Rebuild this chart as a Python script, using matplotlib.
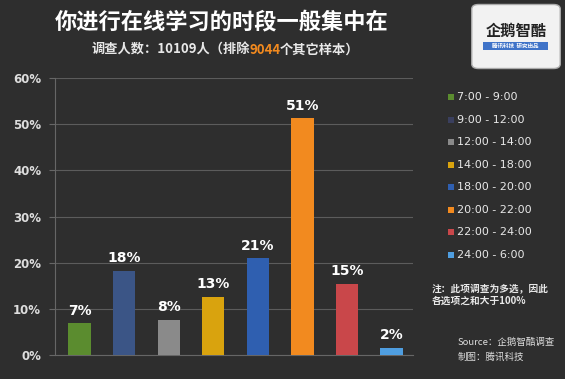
import numpy as np
import matplotlib.pyplot as plt
from matplotlib.patches import FancyBboxPatch, Rectangle

plt.rcParams['font.family'] = ['Noto Sans CJK SC', 'DejaVu Sans']

# data
slots = ["7:00 - 9:00", "9:00 - 12:00", "12:00 - 14:00", "14:00 - 18:00",
         "18:00 - 20:00", "20:00 - 22:00", "22:00 - 24:00", "24:00 - 6:00"]
shares = [6.9, 18.3, 7.6, 12.6, 21.0, 51.3, 15.4, 1.6]
bar_labels = ["7%", "18%", "8%", "13%", "21%", "51%", "15%", "2%"]
colors = ["#5b8c2f", "#3b5586", "#8a8a8a", "#d9a30e",
          "#2f5fb0", "#f28a1f", "#c9474a", "#4f9ee0"]
legend_colors = ["#5b8c2f", "#3a3f5e", "#8a8a8a", "#d9a30e",
                 "#2f5fb0", "#f28a1f", "#c9474a", "#4f9ee0"]
yticks = [0, 10, 20, 30, 40, 50, 60]

W, H = 565, 379
BG = "#2e2e2e"
fig = plt.figure(figsize=(W / 100, H / 100), dpi=100, facecolor=BG)


def fx(px):
    return px / W


def fy(py):
    return 1 - py / H


ax = fig.add_axes([fx(55), fy(355), fx(413 - 55), (355 - 78) / H])
ax.set_facecolor("none")

x = np.arange(len(shares))
ax.bar(x, shares, width=0.5, color=colors, zorder=3)
for xi, v, lab in zip(x, shares, bar_labels):
    ax.text(xi, v + 1.2, lab, ha='center', va='bottom', color='white',
            fontsize=10, fontweight='bold', family='DejaVu Sans', zorder=4)

ax.set_xlim(-0.55, len(shares) - 0.52)
ax.set_ylim(0, 60)
ax.set_yticks(yticks)
ax.set_yticklabels([f"{t}%" for t in yticks], color='#dddddd', fontsize=8.5,
                   fontweight='bold', family='DejaVu Sans')
ax.set_xticks([])
ax.grid(axis='y', color='#5c5c5c', linewidth=0.8, zorder=0)
for s in ['top', 'right']:
    ax.spines[s].set_visible(False)
ax.spines['left'].set_color('#666666')
ax.spines['bottom'].set_color('#666666')
ax.tick_params(axis='y', color='#666666', length=4, pad=6)

# title block
fig.text(fx(222), fy(22), "你进行在线学习的时段一般集中在", ha='center', va='center',
         color='white', fontsize=16, fontweight='bold')
fig.text(fx(250), fy(50), "调查人数：10109人（排除", ha='right', va='center',
         color='#e8e8e8', fontsize=9.5, fontweight='bold')
fig.text(fx(250), fy(50), "9044", ha='left', va='center',
         color='#f28a1f', fontsize=9.5, fontweight='bold')
fig.text(fx(280), fy(50), "个其它样本）", ha='left', va='center',
         color='#e8e8e8', fontsize=9.5, fontweight='bold')

# logo box
fig.patches.append(FancyBboxPatch((fx(474), fy(67)), fx(84), (67 - 6) / H,
                                  boxstyle="round,pad=0.004,rounding_size=0.012",
                                  transform=fig.transFigure, facecolor='#f2f2f2',
                                  edgecolor='#aaaaaa', linewidth=1))
fig.text(fx(516), fy(31), "企鹅智酷", ha='center', va='center', color='#222222',
         fontsize=11, fontweight='bold')
fig.patches.append(Rectangle((fx(483), fy(50)), fx(65), 8 / H,
                             transform=fig.transFigure, facecolor='#3f73c8',
                             edgecolor='none'))
fig.text(fx(515.5), fy(46), "腾讯科技  研究出品", ha='center', va='center',
         color='white', fontsize=4, fontweight='bold')

# legend
leg_y = [97, 120, 142, 165, 187, 210, 232, 255]
for lab, c, py in zip(slots, legend_colors, leg_y):
    fig.patches.append(Rectangle((fx(448), fy(py + 3)), fx(6), 6 / H,
                                 transform=fig.transFigure, facecolor=c,
                                 edgecolor='none'))
    fig.text(fx(457), fy(py), lab, ha='left', va='center', color='#e8e8e8',
             fontsize=8, family='DejaVu Sans')

# notes
fig.text(fx(432), fy(295), "注：此项调查为多选，因此\n各选项之和大于100%",
         ha='left', va='center', color='#e8e8e8', fontsize=7,
         fontweight='bold', linespacing=1.3)
fig.text(fx(458), fy(342), "Source：企鹅智酷调查", ha='left', va='center',
         color='#dddddd', fontsize=6.8, style='italic')
fig.text(fx(458), fy(357), "制图：腾讯科技", ha='left', va='center',
         color='#dddddd', fontsize=6.8)

fig.savefig("out.png", dpi=100, facecolor=BG)
